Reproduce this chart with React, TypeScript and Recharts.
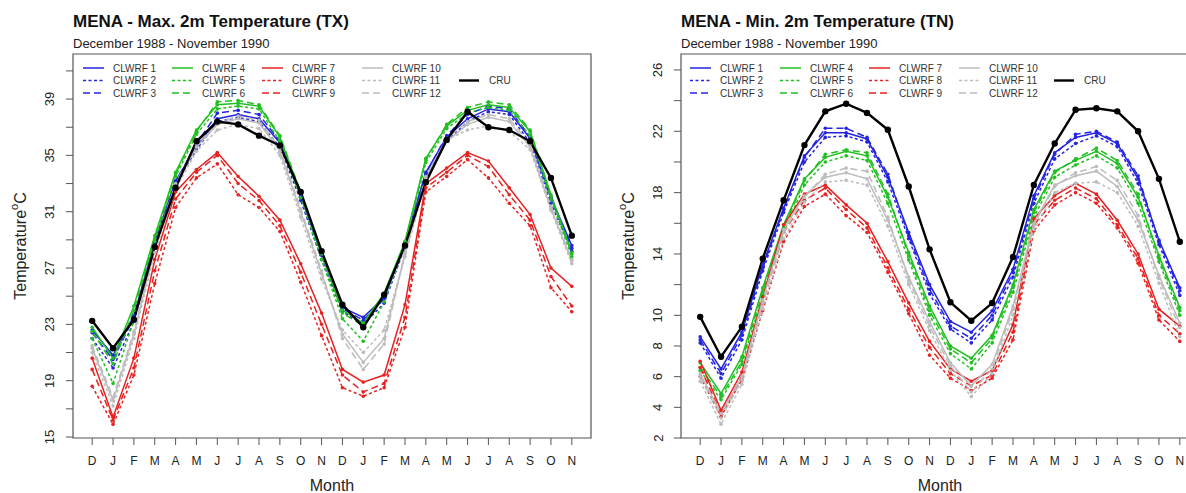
import React from 'react';
import { LineChart, Line, XAxis, YAxis, ReferenceArea } from 'recharts';

// ---------- categories ----------
const MONTHS = ['D', 'J', 'F', 'M', 'A', 'M', 'J', 'J', 'A', 'S', 'O', 'N', 'D', 'J', 'F', 'M', 'A', 'M', 'J', 'J', 'A', 'S', 'O', 'N'];

// ---------- TX (max temperature) ----------
const TX_CRU = [23.25, 21.3, 23.35, 28.5, 32.7, 36.0, 37.4, 37.2, 36.4, 35.7, 32.4, 28.2, 24.4, 22.8, 25.1, 28.6, 33.1, 36.1, 38.1, 37.0, 36.8, 36.0, 33.4, 29.3];
const TX_C1 = [22.6, 20.8, 23.6, 28.9, 33.2, 35.6, 37.6, 37.9, 37.6, 35.9, 32.1, 28.0, 24.2, 23.5, 24.9, 28.8, 33.8, 36.3, 37.6, 38.3, 38.1, 36.2, 32.0, 28.6];
const TX_C2 = [22.0, 19.9, 23.2, 28.6, 33.0, 35.4, 37.4, 37.7, 37.4, 35.6, 31.8, 27.6, 23.9, 23.0, 24.5, 28.5, 33.5, 36.0, 37.4, 38.1, 37.9, 35.9, 31.6, 28.2];
const TX_C3 = [22.4, 20.5, 23.5, 28.8, 33.1, 35.8, 38.0, 38.2, 37.9, 36.0, 32.2, 27.9, 24.1, 23.3, 24.8, 28.7, 33.7, 36.4, 37.9, 38.5, 38.3, 36.3, 31.9, 28.4];
const TX_C4 = [22.8, 20.6, 24.3, 29.3, 33.8, 36.8, 38.6, 38.7, 38.5, 36.3, 32.3, 28.0, 24.0, 23.1, 25.2, 28.9, 34.8, 37.1, 38.2, 38.6, 38.4, 36.7, 32.2, 28.1];
const TX_C5 = [22.0, 18.8, 23.3, 28.9, 33.5, 36.5, 38.3, 38.5, 38.3, 36.0, 32.0, 27.6, 23.4, 21.8, 24.6, 28.6, 34.5, 36.9, 38.0, 38.4, 38.2, 36.4, 31.9, 27.8];
const TX_C6 = [22.5, 20.2, 24.0, 29.1, 33.7, 36.7, 38.8, 38.9, 38.6, 36.4, 32.4, 28.1, 23.8, 22.9, 25.0, 28.8, 34.7, 37.2, 38.4, 38.8, 38.6, 36.8, 32.1, 28.0];
const TX_C7 = [20.6, 16.4, 20.6, 27.6, 32.4, 34.0, 35.2, 33.5, 32.1, 30.4, 27.3, 23.8, 19.8, 18.9, 19.4, 24.4, 33.0, 34.1, 35.2, 34.6, 32.7, 30.8, 27.0, 25.7];
const TX_C8 = [18.6, 15.9, 19.4, 25.9, 31.3, 33.4, 34.4, 32.2, 31.3, 29.6, 26.0, 22.2, 18.5, 17.9, 18.5, 22.8, 32.4, 33.5, 34.7, 33.4, 31.6, 30.0, 25.6, 23.9];
const TX_C9 = [19.8, 16.2, 19.9, 26.8, 31.9, 33.8, 35.0, 33.0, 31.8, 30.0, 26.7, 23.0, 19.4, 18.2, 18.8, 23.5, 32.7, 33.8, 35.0, 34.2, 32.2, 30.4, 26.4, 24.3];
const TX_C10 = [21.3, 17.6, 22.3, 28.4, 32.9, 35.6, 37.2, 37.6, 37.3, 35.3, 31.0, 26.6, 22.3, 20.3, 22.0, 28.0, 33.4, 36.0, 37.2, 37.7, 37.4, 35.6, 31.2, 27.5];
const TX_C11 = [21.0, 17.2, 22.0, 28.1, 32.6, 35.3, 36.8, 37.2, 36.9, 35.0, 30.6, 26.2, 22.6, 21.0, 22.6, 27.8, 33.2, 36.1, 36.8, 37.1, 36.7, 35.4, 31.1, 27.3];
const TX_C12 = [21.5, 17.8, 22.5, 28.5, 33.0, 35.8, 37.3, 37.8, 37.5, 35.5, 31.2, 26.8, 22.0, 19.8, 21.6, 28.1, 33.5, 36.2, 37.4, 37.9, 37.6, 35.8, 31.4, 27.6];

// ---------- TN (min temperature) ----------
const TN_CRU = [9.9, 7.3, 9.25, 13.7, 17.5, 21.1, 23.3, 23.8, 23.2, 22.1, 18.4, 14.3, 10.85, 9.65, 10.8, 13.8, 18.5, 21.2, 23.4, 23.5, 23.3, 22.0, 18.9, 14.8];
const TN_C1 = [8.6, 6.5, 8.9, 13.3, 17.0, 20.4, 21.9, 21.9, 21.5, 19.0, 15.4, 12.0, 9.6, 8.9, 10.3, 13.0, 17.8, 20.6, 21.6, 21.9, 21.2, 18.9, 14.9, 11.8];
const TN_C2 = [8.2, 5.9, 8.4, 12.9, 16.7, 20.0, 21.6, 21.7, 21.3, 18.7, 15.0, 11.4, 9.1, 8.2, 9.7, 12.5, 17.3, 20.2, 21.2, 21.7, 21.0, 18.6, 14.6, 11.3];
const TN_C3 = [8.4, 6.2, 8.7, 13.1, 16.9, 20.3, 22.2, 22.2, 21.6, 19.2, 15.2, 11.7, 9.3, 8.5, 10.0, 12.8, 17.6, 20.5, 21.8, 22.0, 21.3, 19.1, 14.8, 11.6];
const TN_C4 = [6.9, 4.9, 7.3, 11.8, 15.9, 18.9, 20.3, 20.7, 20.4, 17.7, 14.1, 10.6, 8.0, 7.2, 8.7, 12.0, 16.9, 19.4, 20.1, 20.7, 19.9, 17.7, 13.9, 10.5];
const TN_C5 = [6.4, 4.5, 6.8, 11.3, 15.4, 18.5, 20.0, 20.4, 20.1, 17.3, 13.6, 10.0, 7.5, 6.5, 8.2, 11.5, 16.4, 19.0, 19.8, 20.4, 19.6, 17.3, 13.5, 10.0];
const TN_C6 = [6.6, 4.7, 7.0, 11.6, 15.7, 18.8, 20.5, 20.8, 20.6, 17.9, 13.9, 10.3, 7.8, 6.9, 8.5, 11.8, 16.7, 19.3, 20.2, 20.9, 20.1, 17.9, 13.7, 10.3];
const TN_C7 = [7.0, 3.8, 6.3, 11.2, 15.9, 17.9, 18.5, 17.2, 16.0, 13.5, 10.8, 8.3, 6.5, 5.7, 6.4, 9.4, 16.3, 17.8, 18.6, 17.9, 16.2, 14.0, 10.4, 9.3];
const TN_C8 = [6.0, 3.4, 5.8, 10.3, 14.8, 17.1, 17.9, 16.5, 15.4, 12.8, 10.1, 7.4, 5.9, 5.1, 5.9, 8.4, 15.5, 17.2, 18.0, 17.3, 15.7, 13.4, 9.7, 8.3];
const TN_C9 = [6.6, 3.6, 6.0, 10.8, 15.4, 17.5, 18.3, 16.9, 15.7, 13.1, 10.4, 7.9, 6.2, 5.4, 6.1, 8.9, 15.9, 17.5, 18.3, 17.6, 15.9, 13.7, 10.0, 8.8];
const TN_C10 = [6.2, 3.6, 6.0, 11.0, 15.6, 17.8, 19.0, 19.3, 18.9, 16.2, 12.5, 9.6, 6.9, 5.4, 6.8, 10.6, 16.0, 18.5, 19.1, 19.4, 18.4, 16.2, 12.6, 9.5];
const TN_C11 = [5.7, 2.9, 5.5, 10.4, 15.0, 17.4, 18.7, 18.8, 18.5, 15.8, 12.0, 9.0, 6.4, 4.7, 6.2, 10.0, 15.6, 18.0, 18.6, 18.7, 18.0, 15.8, 12.1, 8.6];
const TN_C12 = [6.0, 3.3, 5.8, 10.8, 15.4, 17.7, 19.2, 19.6, 19.4, 16.4, 12.3, 9.3, 6.7, 5.0, 6.5, 10.4, 15.9, 18.4, 19.3, 19.7, 18.8, 16.5, 12.4, 9.2];

// ---------- axis ticks ----------
const TX_TICKS = [15, 17, 19, 21, 23, 25, 27, 29, 31, 33, 35, 37, 39, 41];
const TX_TICK_LABELS = [15, 19, 23, 27, 31, 35, 39];
const TN_TICKS = [2, 4, 6, 8, 10, 12, 14, 16, 18, 20, 22, 24, 26];
const TN_TICK_LABELS = [2, 4, 6, 8, 10, 14, 18, 22, 26];

// ---------- series styling ----------
const BLUE = '#2424e0';
const GREEN = '#22bf22';
const RED = '#e62222';
const GRAY = '#bcbcbc';
const SOLID = '';
const DOTTED = '3 2.5';
const DASHED = '7 4';

type SeriesDef = { key: string; name: string; color: string; dash: string };

const SERIES: SeriesDef[] = [
  { key: 'c1', name: 'CLWRF 1', color: BLUE, dash: SOLID },
  { key: 'c2', name: 'CLWRF 2', color: BLUE, dash: DOTTED },
  { key: 'c3', name: 'CLWRF 3', color: BLUE, dash: DASHED },
  { key: 'c4', name: 'CLWRF 4', color: GREEN, dash: SOLID },
  { key: 'c5', name: 'CLWRF 5', color: GREEN, dash: DOTTED },
  { key: 'c6', name: 'CLWRF 6', color: GREEN, dash: DASHED },
  { key: 'c7', name: 'CLWRF 7', color: RED, dash: SOLID },
  { key: 'c8', name: 'CLWRF 8', color: RED, dash: DOTTED },
  { key: 'c9', name: 'CLWRF 9', color: RED, dash: DASHED },
  { key: 'c10', name: 'CLWRF 10', color: GRAY, dash: SOLID },
  { key: 'c11', name: 'CLWRF 11', color: GRAY, dash: DOTTED },
  { key: 'c12', name: 'CLWRF 12', color: GRAY, dash: DASHED },
];

function buildData(cru: number[], models: number[][]) {
  return MONTHS.map((m, i) => {
    const row: Record<string, number | string> = { i, month: m, cru: cru[i] };
    models.forEach((arr, k) => {
      row['c' + (k + 1)] = arr[i];
    });
    return row;
  });
}

const TX_DATA = buildData(TX_CRU, [TX_C1, TX_C2, TX_C3, TX_C4, TX_C5, TX_C6, TX_C7, TX_C8, TX_C9, TX_C10, TX_C11, TX_C12]);
const TN_DATA = buildData(TN_CRU, [TN_C1, TN_C2, TN_C3, TN_C4, TN_C5, TN_C6, TN_C7, TN_C8, TN_C9, TN_C10, TN_C11, TN_C12]);

const FONT = '"Liberation Sans", Arial, Helvetica, sans-serif';
const X_DOMAIN: [number, number] = [-0.92, 23.92];
const X_TICKS = MONTHS.map((_, i) => i);

const FRAME_TOP = 54;
const FRAME_BOTTOM = 438;
const FRAME_W = 518;
const Y_AXIS_W = 30;
const X_AXIS_H = 30;
const CHART_H = 493;

type PanelProps = {
  left: number;
  frameLeft: number;
  title: string;
  data: Record<string, number | string>[];
  yDomain: [number, number];
  yTicks: number[];
  yLabels: number[];
  legendCols: number[];
  cruCol: number;
};

function Panel(p: PanelProps) {
  const width = p.frameLeft + FRAME_W + 12;
  const XTick = (props: any) => {
    const { x, y, payload } = props;
    return (
      <text x={x} y={y + 16} textAnchor="middle" dominantBaseline="central" fontSize={12} fill="#222" fontFamily={FONT}>
        {MONTHS[payload.value]}
      </text>
    );
  };
  const YTick = (props: any) => {
    const { x, y, payload } = props;
    if (!p.yLabels.includes(payload.value)) return <g />;
    const cx = x - 16;
    return (
      <text
        x={cx}
        y={y}
        transform={`rotate(-90 ${cx} ${y})`}
        textAnchor="middle"
        dominantBaseline="central"
        fontSize={13}
        fill="#222"
        fontFamily={FONT}
      >
        {payload.value}
      </text>
    );
  };
  const legendRows = [68, 80.5, 93];
  const plotMid = (FRAME_TOP + FRAME_BOTTOM) / 2;
  return (
    <div style={{ position: 'absolute', left: p.left, top: 0, width, height: CHART_H }}>
      <LineChart
        width={width}
        height={CHART_H}
        data={p.data}
        margin={{ top: FRAME_TOP, right: 12, bottom: CHART_H - FRAME_BOTTOM - X_AXIS_H, left: p.frameLeft - Y_AXIS_W }}
      >
        <XAxis
          type="number"
          dataKey="i"
          domain={X_DOMAIN}
          ticks={X_TICKS}
          interval={0}
          height={X_AXIS_H}
          axisLine={false}
          tickLine={{ stroke: '#555' }}
          tickSize={7}
          tickMargin={0}
          tick={XTick}
          allowDataOverflow
        />
        <YAxis
          type="number"
          domain={p.yDomain}
          ticks={p.yTicks}
          interval={0}
          width={Y_AXIS_W}
          axisLine={false}
          tickLine={{ stroke: '#555' }}
          tickSize={7}
          tickMargin={0}
          tick={YTick}
          allowDataOverflow
        />
        <ReferenceArea
          x1={X_DOMAIN[0]}
          x2={X_DOMAIN[1]}
          y1={p.yDomain[0]}
          y2={p.yDomain[1]}
          fill="none"
          stroke="#555"
          strokeWidth={1.2}
          ifOverflow="visible"
        />
        {SERIES.map((s) => (
          <Line
            key={s.key}
            type="linear"
            dataKey={s.key}
            stroke={s.color}
            strokeWidth={1.5}
            strokeDasharray={s.dash || undefined}
            dot={{ r: 1.8, fill: s.color, stroke: 'none', strokeDasharray: '' }}
            activeDot={false}
            isAnimationActive={false}
          />
        ))}
        <Line
          type="linear"
          dataKey="cru"
          stroke="#000"
          strokeWidth={2.4}
          dot={{ r: 3.2, fill: '#000', stroke: 'none' }}
          activeDot={false}
          isAnimationActive={false}
        />
      </LineChart>
      <svg
        width={width}
        height={CHART_H}
        style={{ position: 'absolute', left: 0, top: 0, pointerEvents: 'none' }}
        fontFamily={FONT}
      >
        <text x={p.frameLeft} y={27} fontSize={17} fontWeight="bold" fill="#111">
          {p.title}
        </text>
        <text x={p.frameLeft} y={48} fontSize={13} fill="#222">
          December 1988 - November 1990
        </text>
        <text
          x={p.frameLeft - 53}
          y={plotMid}
          transform={`rotate(-90 ${p.frameLeft - 53} ${plotMid})`}
          textAnchor="middle"
          dominantBaseline="central"
          fontSize={16}
          fill="#222"
        >
          Temperature
          <tspan fontSize={11} dy={-6}>o</tspan>
          <tspan dy={6}>C</tspan>
        </text>
        <text x={p.frameLeft + FRAME_W / 2} y={491} textAnchor="middle" fontSize={16} fill="#222">
          Month
        </text>
        {SERIES.map((s, k) => {
          const col = Math.floor(k / 3);
          const row = k % 3;
          const lx = p.frameLeft + p.legendCols[col];
          const ly = legendRows[row];
          return (
            <g key={s.key}>
              <line x1={lx} y1={ly} x2={lx + 21} y2={ly} stroke={s.color} strokeWidth={1.5} strokeDasharray={s.dash || undefined} />
              <text x={lx + 30} y={ly} dominantBaseline="central" fontSize={10} fill="#333">
                {s.name}
              </text>
            </g>
          );
        })}
        <line x1={p.frameLeft + p.cruCol} y1={legendRows[1]} x2={p.frameLeft + p.cruCol + 20} y2={legendRows[1]} stroke="#000" strokeWidth={2.4} />
        <text x={p.frameLeft + p.cruCol + 30} y={legendRows[1]} dominantBaseline="central" fontSize={10} fill="#333">
          CRU
        </text>
      </svg>
    </div>
  );
}

export default function App() {
  return (
    <div
      style={{
        position: 'absolute',
        left: 0,
        top: 0,
        width: 1186,
        height: 493,
        overflow: 'hidden',
        background: '#fff',
        fontFamily: FONT,
      }}
    >
      <Panel
        left={0}
        frameLeft={73}
        title="MENA - Max. 2m Temperature (TX)"
        data={TX_DATA}
        yDomain={[14.93, 42.2]}
        yTicks={TX_TICKS}
        yLabels={TX_TICK_LABELS}
        legendCols={[10, 99, 189, 289]}
        cruCol={386}
      />
      <Panel
        left={600}
        frameLeft={81}
        title="MENA - Min. 2m Temperature (TN)"
        data={TN_DATA}
        yDomain={[2, 27.04]}
        yTicks={TN_TICKS}
        yLabels={TN_TICK_LABELS}
        legendCols={[9, 99, 188, 278]}
        cruCol={373}
      />
    </div>
  );
}
